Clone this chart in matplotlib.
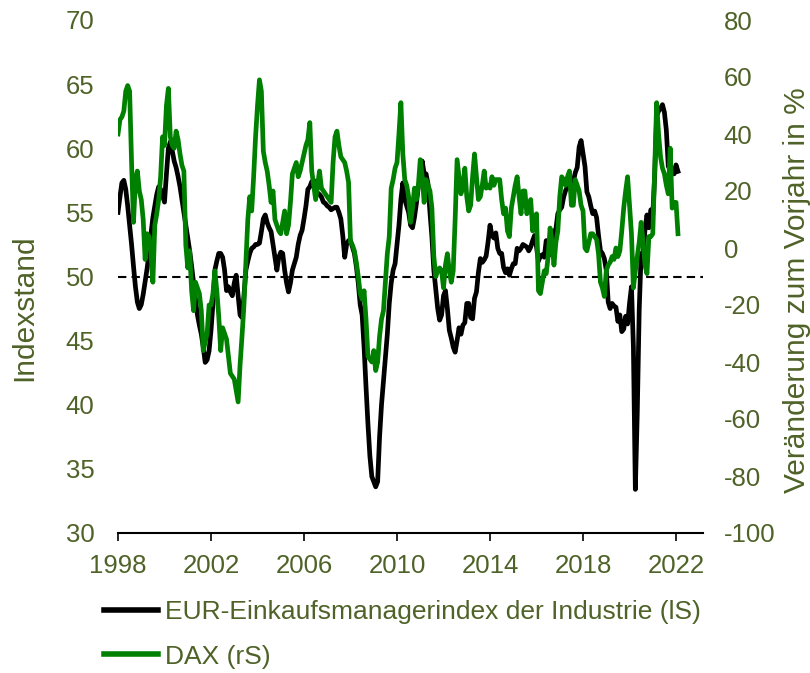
import numpy as np
import pandas as pd
import matplotlib
matplotlib.use("Agg")
import matplotlib.pyplot as plt

plt.rcParams['font.family'] = ['Liberation Sans', 'DejaVu Sans']
plt.rcParams['axes.unicode_minus'] = False

# EUR manufacturing PMI (left axis), monthly from Jan 1998
pmi_1998 = [55.0, 56.2, 57.3, 57.5, 56.8, 55.5, 54.0, 52.5, 50.8, 49.2, 48.0, 47.5]
pmi_1999 = [47.8, 48.6, 49.6, 50.6, 51.8, 53.3, 54.6, 55.5, 56.4, 57.0, 56.8, 56.3]
pmi_2000 = [55.8, 58.0, 60.0, 60.5, 59.8, 59.0, 58.5, 57.8, 57.0, 56.0, 55.0, 54.0]
pmi_2001 = [53.0, 52.0, 50.8, 49.5, 48.2, 47.0, 46.2, 45.5, 44.5, 43.3, 43.5, 44.2]
pmi_2002 = [45.8, 47.9, 50.5, 51.2, 51.8, 51.8, 51.5, 50.5, 48.9, 49.2, 48.8, 48.5]
pmi_2003 = [49.5, 50.1, 48.5, 47.0, 46.8, 48.5, 50.5, 51.2, 51.8, 52.2, 52.3, 52.5]
pmi_2004 = [52.5, 52.6, 53.5, 54.5, 54.8, 54.2, 53.8, 53.5, 52.5, 51.5, 50.5, 51.5]
pmi_2005 = [51.9, 51.8, 50.5, 49.5, 48.8, 49.5, 50.5, 51.0, 51.5, 52.5, 53.2, 53.6]
pmi_2006 = [54.5, 55.5, 56.8, 57.0, 57.4, 57.5, 56.8, 56.5, 56.4, 56.2, 55.8, 55.7]
pmi_2007 = [55.5, 55.4, 55.2, 55.3, 55.4, 55.4, 55.0, 54.5, 53.2, 51.5, 52.5, 52.8]
pmi_2008 = [52.8, 52.3, 51.8, 50.8, 49.5, 47.8, 47.0, 44.5, 41.4, 38.5, 36.0, 34.4]
pmi_2009 = [34.0, 33.6, 34.0, 37.5, 40.0, 41.8, 43.5, 45.5, 47.9, 49.5, 50.5, 51.0]
pmi_2010 = [52.5, 54.0, 56.0, 57.3, 56.0, 55.5, 55.0, 54.0, 53.8, 54.6, 55.7, 57.0]
pmi_2011 = [57.5, 59.0, 58.0, 58.0, 57.2, 55.0, 53.1, 50.5, 49.0, 47.5, 46.6, 47.0]
pmi_2012 = [48.5, 48.9, 47.5, 45.8, 45.2, 44.5, 44.1, 45.0, 46.0, 45.5, 46.2, 46.4]
pmi_2013 = [47.9, 47.9, 46.8, 46.7, 48.3, 48.8, 50.3, 51.4, 51.1, 51.3, 51.6, 52.7]
pmi_2014 = [54.0, 53.2, 53.0, 53.4, 52.2, 51.8, 51.8, 50.7, 50.3, 50.6, 50.1, 50.6]
pmi_2015 = [51.0, 51.0, 52.2, 52.0, 52.2, 52.5, 52.4, 52.3, 52.0, 52.3, 52.8, 53.2]
pmi_2016 = [52.3, 51.2, 51.6, 51.7, 51.5, 52.8, 52.0, 51.7, 52.6, 53.5, 53.7, 54.9]
pmi_2017 = [55.2, 55.4, 56.2, 56.7, 57.0, 57.4, 56.6, 57.4, 58.1, 58.5, 60.1, 60.6]
pmi_2018 = [59.6, 58.6, 56.6, 56.2, 55.5, 54.9, 55.1, 54.6, 53.2, 52.0, 51.8, 51.4]
pmi_2019 = [50.5, 48.0, 47.5, 47.9, 47.7, 47.6, 46.5, 47.0, 45.7, 45.9, 46.9, 46.3]
pmi_2020 = [47.9, 49.2, 44.5, 33.4, 39.4, 47.4, 51.8, 51.7, 53.7, 54.8, 53.8, 55.2]
pmi_2021 = [54.8, 57.9, 62.5, 62.9, 63.1, 63.4, 62.8, 61.4, 58.6, 58.3, 58.4, 58.0]
pmi_2022 = [58.7, 58.2]

# DAX, change vs. previous year in % (right axis), monthly from Jan 1998
dax_1998 = [40, 45, 46, 48, 55, 57, 55, 30, 9, 24, 27, 20]
dax_1999 = [17, 10, -4, 5, 4, -2, -12, 8, 12, 17, 25, 39]
dax_2000 = [36, 50, 56, 39, 36, 35, 41, 38, 33, 29, 27, 1]
dax_2001 = [-7, -1, -15, -22, -12, -14, -16, -22, -36, -33, -30, -20]
dax_2002 = [-20, -16, -8, -15, -24, -36, -28, -30, -32, -38, -44, -45]
dax_2003 = [-46, -50, -54, -41, -31, -20, -5, 10, 18, 13, 25, 39]
dax_2004 = [50, 59, 55, 34, 30, 27, 22, 16, 20, 10, 8, 6]
dax_2005 = [5, 9, 13, 5, 8, 16, 26, 28, 30, 25, 27, 30]
dax_2006 = [33, 36, 38, 44, 27, 22, 17, 22, 27, 21, 20, 19]
dax_2007 = [18, 17, 16, 30, 39, 41, 36, 32, 31, 30, 27, 23]
dax_2008 = [2, 1, -1, -5, -10, -16, -18, -15, -25, -38, -39, -40]
dax_2009 = [-36, -43, -40, -31, -25, -22, -12, -2, 4, 21, 24, 28]
dax_2010 = [30, 40, 51, 33, 24, 22, 18, 9, 14, 21, 17, 22]
dax_2011 = [31, 25, 16, 24, 22, 20, 14, -3, -10, -8, -7, -8]
dax_2012 = [-14, -6, -2, -8, -12, -8, 10, 31, 25, 19, 22, 28]
dax_2013 = [18, 13, 15, 25, 33, 25, 17, 18, 22, 27, 21, 22]
dax_2014 = [21, 25, 22, 24, 24, 24, 17, 12, 14, 6, 4, 14]
dax_2015 = [18, 22, 25, 18, 12, 20, 20, 12, 14, 17, 6, 10]
dax_2016 = [12, -15, -16, -12, -8, -9, -3, 7, 2, -6, 2, 6]
dax_2017 = [18, 25, 24, 22, 25, 27, 15, 15, 24, 22, 20, 15]
dax_2018 = [13, 0, -1, 2, 5, 5, 4, 3, -2, -12, -14, -17]
dax_2019 = [-8, -6, -5, -3, -4, 0, -3, -1, 6, 14, 20, 25]
dax_2020 = [15, 5, -14, -8, -3, 2, 9, 2, -6, -9, 4, 4]
dax_2021 = [5, 28, 51, 40, 32, 28, 26, 22, 19, 35, 14, 16]
dax_2022 = [16, 5]

pmi = sum([pmi_1998, pmi_1999, pmi_2000, pmi_2001, pmi_2002, pmi_2003, pmi_2004,
           pmi_2005, pmi_2006, pmi_2007, pmi_2008, pmi_2009, pmi_2010, pmi_2011,
           pmi_2012, pmi_2013, pmi_2014, pmi_2015, pmi_2016, pmi_2017, pmi_2018,
           pmi_2019, pmi_2020, pmi_2021, pmi_2022], [])
dax = sum([dax_1998, dax_1999, dax_2000, dax_2001, dax_2002, dax_2003, dax_2004,
           dax_2005, dax_2006, dax_2007, dax_2008, dax_2009, dax_2010, dax_2011,
           dax_2012, dax_2013, dax_2014, dax_2015, dax_2016, dax_2017, dax_2018,
           dax_2019, dax_2020, dax_2021, dax_2022], [])

dates = pd.date_range('1998-01-01', periods=len(pmi), freq='MS')
t = dates.year + (dates.month - 1) / 12.0

x_ticks = [1998, 2002, 2006, 2010, 2014, 2018, 2022]
left_ticks = [30, 35, 40, 45, 50, 55, 60, 65, 70]
right_ticks = [-100, -80, -60, -40, -20, 0, 20, 40, 60, 80]

label_pmi = 'EUR-Einkaufsmanagerindex der Industrie (lS)'
label_dax = 'DAX (rS)'

olive = '#4F6228'
fs = 18.5
fs_leg = 19
fs_title = 21.5

fig = plt.figure(figsize=(8.1, 6.73), dpi=100)
ax = fig.add_axes([118/810, 1 - 533/673, 585/810, 513/673])
ax2 = ax.twinx()

ax.set_xlim(1998, 2023.16)
ax.set_ylim(30, 70)
ax2.set_ylim(-100, 80)

ax.axhline(50, color='black', lw=1.5, ls=(0, (4, 2.5)), zorder=1)
l1, = ax.plot(t, pmi, color='black', lw=3.4, label=label_pmi, solid_joinstyle='round')
l2, = ax2.plot(t, dax, color='#008000', lw=3.4, label=label_dax, solid_joinstyle='round')

for a in (ax, ax2):
    for s in ('left', 'right', 'top'):
        a.spines[s].set_visible(False)
ax2.spines['bottom'].set_visible(False)
ax.spines['bottom'].set_linewidth(1.5)

ax.set_xticks(x_ticks)
ax.set_xticklabels([str(v) for v in x_ticks])
ax.set_yticks(left_ticks)
ax2.set_yticks(right_ticks)

ax.tick_params(axis='x', direction='out', length=6, width=1.2, pad=9,
               labelsize=fs, labelcolor=olive)
ax.tick_params(axis='y', length=0, pad=17, labelsize=fs, labelcolor=olive)
ax2.tick_params(axis='y', length=0, pad=15, labelsize=fs, labelcolor=olive)

ax.set_ylabel('Indexstand', fontsize=fs_title, color=olive)
ax.yaxis.set_label_coords(-0.137, 0.44)
ax2.set_ylabel('Veränderung zum Vorjahr in %', fontsize=fs_title, color=olive, rotation=90)
ax2.yaxis.set_label_coords(1.136, 0.474)

leg = ax.legend([l1, l2], [label_pmi, label_dax], loc='upper left',
                bbox_to_anchor=(104/810, 1 - 600/673), bbox_transform=fig.transFigure,
                frameon=False, fontsize=fs_leg, handlelength=2.05, handletextpad=0.27,
                labelspacing=0.78, borderpad=0, borderaxespad=0)
for txt in leg.get_texts():
    txt.set_color(olive)
for h in leg.legend_handles:
    h.set_linewidth(4)

fig.savefig('out.png', dpi=100)
